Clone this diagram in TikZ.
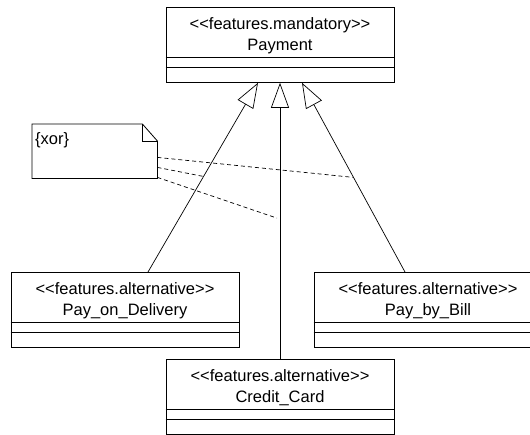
\documentclass[tikz,border=0pt]{standalone}
\usepackage{fontspec}
\setmainfont{Liberation Sans}
\usetikzlibrary{arrows.meta,calc}
% guillemet-safe stereotype brackets
\newcommand{\stl}{<\kern0pt<}
\newcommand{\stg}{>\kern0pt>}
\begin{document}
\begin{tikzpicture}[x=1pt,y=-1pt,
  classbox/.style={draw, line width=0.8pt, minimum width=228pt, minimum height=75pt,
                   anchor=north, inner sep=0pt},
  umltext/.style={anchor=base, inner sep=0pt, font=\fontsize{16.5}{20}\selectfont},
  gen/.style={line width=0.7pt, -{Triangle[open, length=25pt, width=18pt]}},
  link/.style={line width=0.7pt, dash pattern=on 4pt off 3pt},
  compartment/.style={line width=0.8pt}
]
\useasboundingbox (0,0) rectangle (530,434);

% class with stereotype, name and two empty compartments
\newcommand{\featureclass}[5]{%
  \node[classbox] (#1) at (#2,#3) {};
  \node[umltext] (#1-st) at ($(#1.north)+(0,22)$) {#4};
  \node[umltext] (#1-nm) at ($(#1.north)+(0,43)$) {#5};
  \draw[compartment] ($(#1.north west)+(0,50)$) -- ($(#1.north east)+(0,50)$);
  \draw[compartment] ($(#1.north west)+(0,60)$) -- ($(#1.north east)+(0,60)$);
}

\featureclass{pay}{280}{7}{\stl features.mandatory\stg}{Payment}
\featureclass{pod}{125}{272}{\stl features.alternative\stg}{Pay\_on\_Delivery}
\featureclass{pbb}{428}{272}{\stl features.alternative\stg}{Pay\_by\_Bill}
\featureclass{cc}{280}{359}{\stl features.alternative\stg}{Credit\_Card}

% generalization arrows
\coordinate (tipL) at ($(pay.south)+(-22,0)$);
\coordinate (tipM) at (pay.south);
\coordinate (tipR) at ($(pay.south)+(22,0)$);
\coordinate (podTop) at ($(pod.north)+(23,0)$);
\coordinate (pbbTop) at ($(pbb.north)+(-23,0)$);
\coordinate (ccTop) at (cc.north);

\draw[gen] (podTop) -- (tipL);
\draw[gen] (ccTop) -- (tipM);
\draw[gen] (pbbTop) -- (tipR);

% xor note
\node[minimum width=125pt, minimum height=54pt, anchor=north west, inner sep=0pt] (note) at (32,124) {};
\draw[line width=0.8pt, fill=white]
  (note.north west) -- ($(note.north east)+(-15,0)$) -- ($(note.north east)+(0,17)$)
  -- (note.south east) -- (note.south west) -- cycle;
\draw[line width=0.8pt]
  ($(note.north east)+(-15,0)$) -- ($(note.north east)+(-15,17)$) -- ($(note.north east)+(0,17)$);
\node[umltext, anchor=base west] (xor) at (35,144) {\{xor\}};

% constraint links
\coordinate (n1) at ($(note.south east)+(0,-21)$);
\coordinate (n2) at ($(note.south east)+(0,-11)$);
\coordinate (n3) at ($(note.south east)+(0,-1)$);
\coordinate (e1) at ($(tipR)!0.5!(pbbTop)$);
\coordinate (e2) at ($(tipL)!0.495!(podTop)$);
\coordinate (e3) at ($(tipM)!0.49!(ccTop)+(-3,0)$);
\draw[link] (n1) -- (e1);
\draw[link] (n2) -- (e2);
\draw[link] (n3) -- (e3);
\end{tikzpicture}
\end{document}
